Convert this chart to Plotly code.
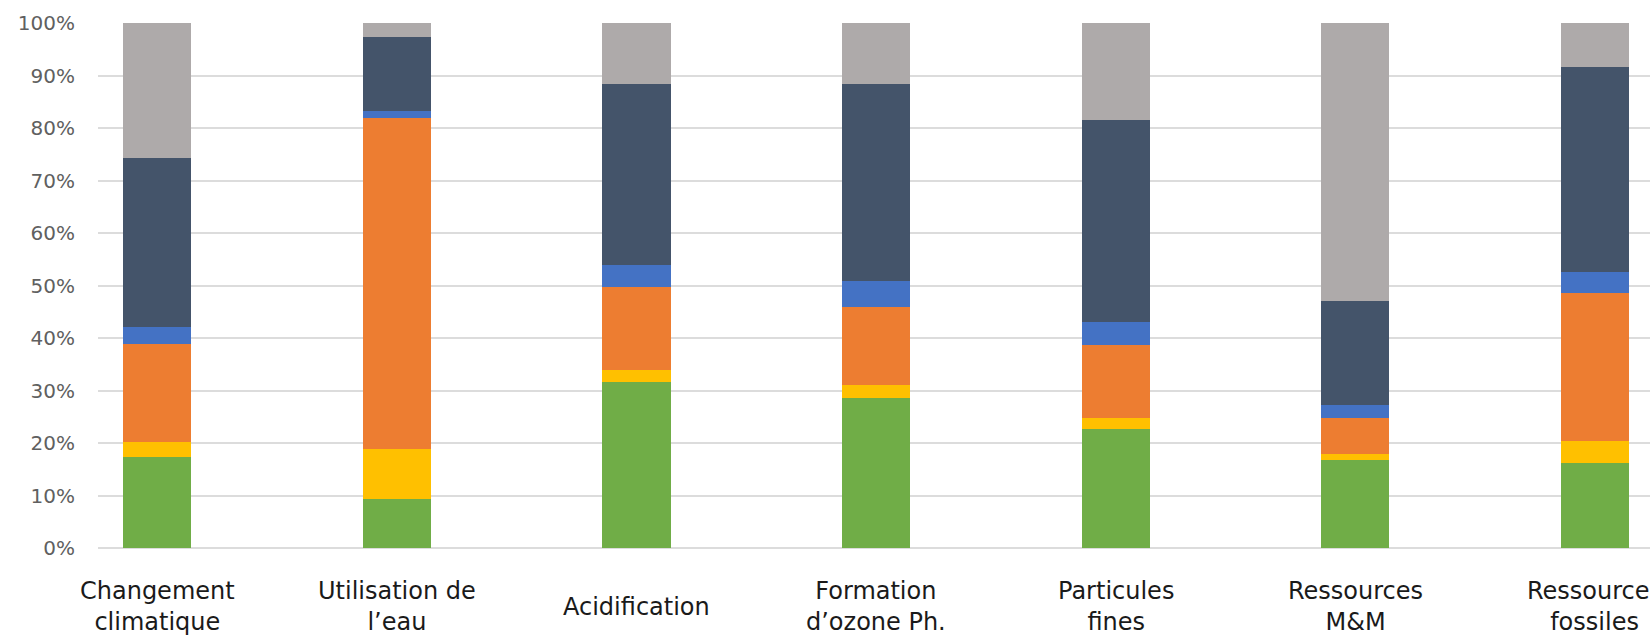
import plotly.graph_objects as go

# Impact categories (x axis)
categories = [
    "Changement<br>climatique",
    "Utilisation de<br>l’eau",
    "Acidification",
    "Formation<br>d’ozone Ph.",
    "Particules<br>fines",
    "Ressources<br>M&M",
    "Ressources<br>fossiles",
]

# Share of each contributor per category (in %), stacked bottom to top
serie_1 = [17.4, 9.3, 31.7, 28.6, 22.6, 16.8, 16.1]
serie_2 = [2.7, 9.5, 2.2, 2.5, 2.1, 1.1, 4.2]
serie_3 = [18.7, 63.1, 15.9, 14.9, 14.0, 6.8, 28.3]
serie_4 = [3.3, 1.4, 4.1, 4.9, 4.3, 2.6, 3.9]
serie_5 = [32.2, 14.0, 34.4, 37.4, 38.5, 19.8, 39.1]
serie_6 = [25.7, 2.7, 11.7, 11.7, 18.5, 52.9, 8.4]

series_names = ["Série 1", "Série 2", "Série 3", "Série 4", "Série 5", "Série 6"]
series_values = [serie_1, serie_2, serie_3, serie_4, serie_5, serie_6]
series_colors = ["#70AD47", "#FFC000", "#ED7D31", "#4472C4", "#44546A", "#AEAAAA"]

y_ticks = [0, 10, 20, 30, 40, 50, 60, 70, 80, 90, 100]
y_tick_labels = [f"{v}%" for v in y_ticks]

idx = list(range(len(categories)))

fig = go.Figure()
for name, vals, color in zip(series_names, series_values, series_colors):
    fig.add_trace(go.Bar(
        x=idx,
        y=vals,
        name=name,
        marker=dict(color=color, line=dict(width=0)),
    ))

# Category labels, vertically centred under each bar
for i, label in enumerate(categories):
    fig.add_annotation(
        x=i, xref="x",
        y=-0.112, yref="paper",
        text=label,
        showarrow=False,
        xanchor="center", yanchor="middle",
        align="center",
        font=dict(family="DejaVu Sans, sans-serif", size=24, color="#1a1a1a"),
    )

fig.update_layout(
    width=1650,
    height=638,
    barmode="stack",
    bargap=0.716,
    showlegend=False,
    plot_bgcolor="white",
    paper_bgcolor="white",
    margin=dict(l=98, r=0, t=23, b=90),
    xaxis=dict(
        range=[-0.2475, 6.23],
        showticklabels=False,
        showgrid=False,
        zeroline=False,
        showline=False,
        fixedrange=True,
    ),
    yaxis=dict(
        range=[0, 100],
        tickvals=y_ticks,
        ticktext=y_tick_labels,
        showgrid=True,
        gridcolor="#DCDCDC",
        gridwidth=2,
        zeroline=True,
        zerolinecolor="#DCDCDC",
        zerolinewidth=2,
        showline=False,
        ticks="",
        ticklabelstandoff=22,
        tickfont=dict(family="DejaVu Sans, sans-serif", size=20, color="#606060"),
        fixedrange=True,
    ),
)

fig.write_html("out.html")
